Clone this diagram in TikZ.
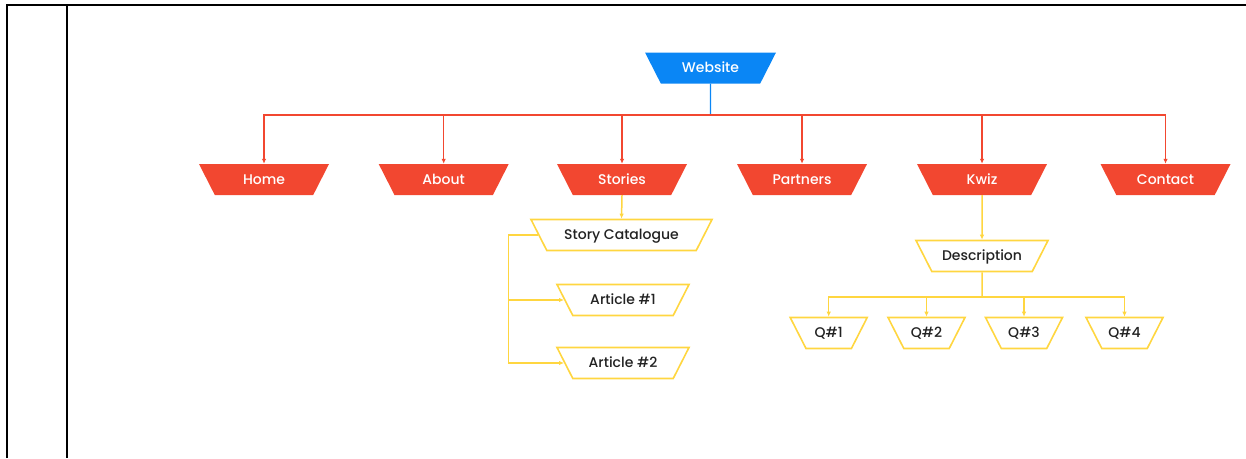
\documentclass[tikz,border=0pt]{standalone}
\usepackage{fontspec}
\setmainfont{Poppins}[UprightFont=* Medium]
\usetikzlibrary{shapes.geometric,arrows.meta}

\definecolor{webblue}{RGB}{10,134,245}
\definecolor{pagered}{RGB}{242,71,48}
\definecolor{subyellow}{RGB}{255,214,64}
\definecolor{subtext}{RGB}{34,34,34}

\tikzset{
	trap/.style={trapezium, trapezium angle=63, shape border rotate=180,
		trapezium stretches body, inner xsep=0pt, inner ysep=9pt,
		text height=11.3pt, text depth=1.7pt, font=\fontsize{14}{15}\selectfont},
	sitebox/.style={trap, fill=webblue, text=white, minimum width=131pt},
	pagebox/.style={trap, fill=pagered, text=white, minimum width=130pt},
	subbox/.style={trap, draw=subyellow, line width=1.6pt, fill=white, text=subtext},
	redarrow/.style={draw=pagered, line width=1.3pt, -{Latex[length=5pt,width=4.5pt]}},
	ylline/.style={draw=subyellow, line width=1.5pt},
	ylarrow/.style={ylline, -{Latex[length=5pt,width=4.5pt]}}
}

\begin{document}
\begin{tikzpicture}[x=1pt,y=-1pt]
	\useasboundingbox (0,0) rectangle (1246,458);
	% table frame
	\draw[line width=2pt] (7,458) -- (7,5) -- (1246,5);
	\draw[line width=2pt] (67,5) -- (67,458);

	\node[sitebox] (web) at (710.5,68) {Website};

	\node[pagebox] (home) at (264,179.5) {Home};
	\node[pagebox] (about) at (443.7,179.5) {About};
	\node[pagebox] (stories) at (622,179.5) {Stories};
	\node[pagebox] (partners) at (802,179.5) {Partners};
	\node[pagebox] (kwiz) at (982,179.5) {Kwiz};
	\node[pagebox] (contact) at (1165.5,179.5) {Contact};

	\node[subbox, minimum width=181pt] (cat) at (621.5,235) {Story Catalogue};
	\node[subbox, minimum width=132pt] (art1) at (623,300) {Article \#1};
	\node[subbox, minimum width=132pt] (art2) at (623,363) {Article \#2};

	\node[subbox, minimum width=132pt] (desc) at (982,256) {Description};
	\node[subbox, minimum width=77pt] (q1) at (828.7,333) {Q\#1};
	\node[subbox, minimum width=77pt] (q2) at (926.5,333) {Q\#2};
	\node[subbox, minimum width=77pt] (q3) at (1024,333) {Q\#3};
	\node[subbox, minimum width=77pt] (q4) at (1124.5,333) {Q\#4};

	\coordinate (hub) at (710.5,115);
	\coordinate (catbend) at (508.5,0);
	\coordinate (qhub) at (982,297);

	\draw[webblue, line width=1.3pt] (web.south) -- (hub);
	\foreach \p in {home,about,stories,partners,kwiz,contact}
		\draw[redarrow] (hub) -| (\p.north);

	\draw[ylarrow] (stories.south) -- (cat.north);
	\draw[ylarrow] (cat.west) -- (cat.west -| catbend) |- (art2.west);
	\draw[ylarrow] (catbend |- art1.west) -- (art1.west);

	\draw[ylarrow] (kwiz.south) -- (desc.north);
	\draw[ylline] (desc.south) -- (qhub);
	\foreach \q in {q1,q2,q3,q4}
		\draw[ylarrow] (qhub) -| (\q.north);
\end{tikzpicture}
\end{document}
